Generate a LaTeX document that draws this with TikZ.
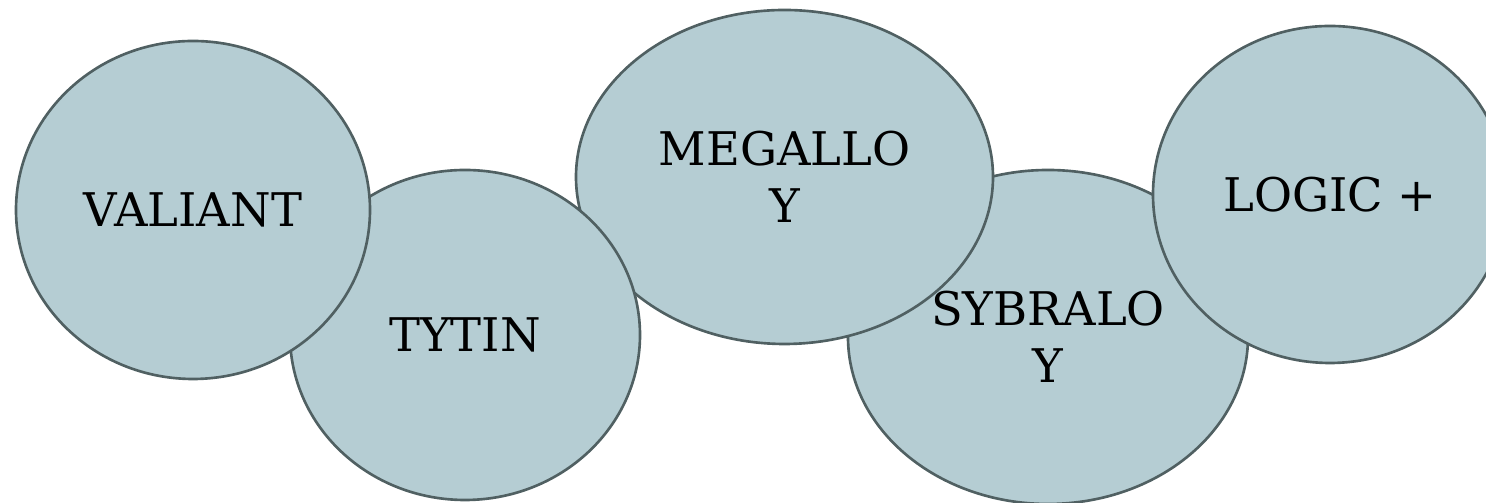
\documentclass[tikz,border=0pt]{standalone}
\usepackage{fontspec}
\setmainfont{DejaVu Serif}
\usetikzlibrary{shapes.geometric}
\definecolor{alloyfill}{HTML}{B5CDD3}
\definecolor{alloyline}{HTML}{506062}

\begin{document}
\begin{tikzpicture}[
        alloy/.style={ellipse, draw=alloyline, fill=alloyfill, line width=0.75pt,
            inner sep=0pt, align=center, font=\fontsize{13.2}{16.2}\selectfont}
    ]
        \useasboundingbox (0,0) rectangle (14.86,5.03);

        \node[alloy, minimum width=4.00cm, minimum height=3.34cm] (sybraloy) at (10.48,1.66) {SYBRALO\\Y};
        \node[alloy, minimum width=4.17cm, minimum height=3.34cm] (megalloy) at (7.845,3.26) {MEGALLO\\Y};
        \node[alloy, minimum width=3.50cm, minimum height=3.30cm] (tytin) at (4.65,1.68) {TYTIN};
        \node[alloy, minimum width=3.54cm, minimum height=3.38cm] (valiant) at (1.93,2.93) {VALIANT};
        \node[alloy, minimum width=3.54cm, minimum height=3.37cm] (logic) at (13.30,3.085) {LOGIC +};
    \end{tikzpicture}
\end{document}
